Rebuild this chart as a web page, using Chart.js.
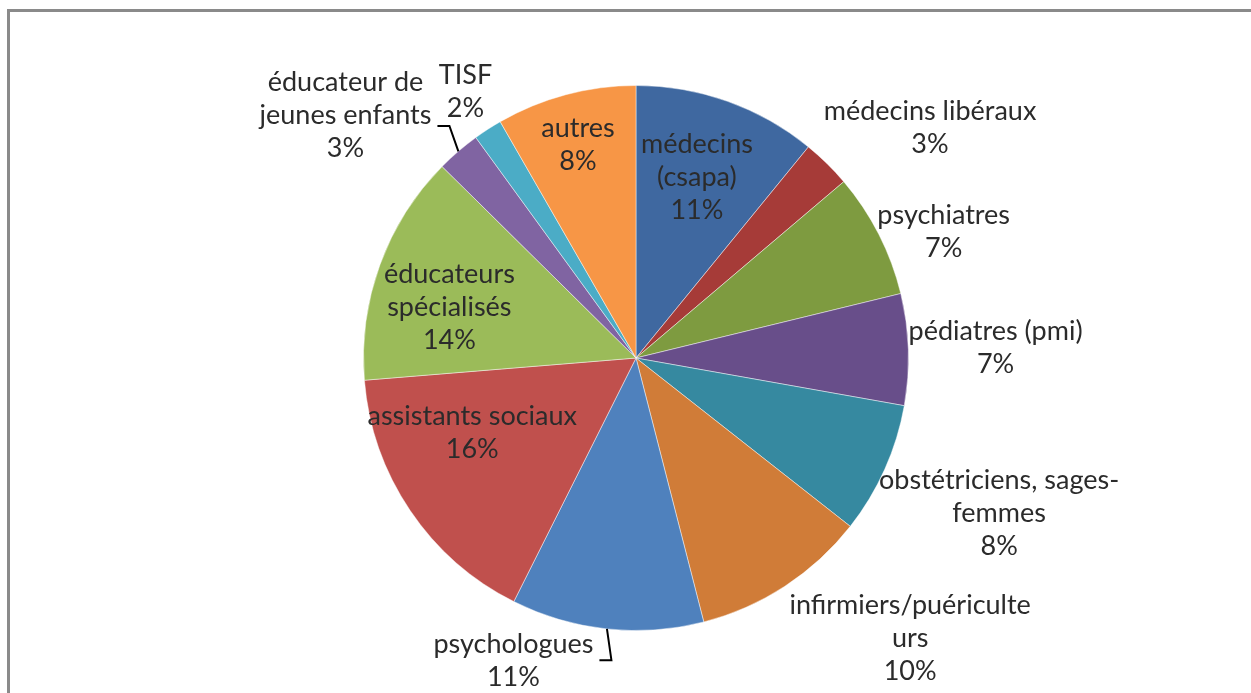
<!DOCTYPE html>
<html>
<head>
<meta charset="utf-8">
<script src="https://cdn.jsdelivr.net/npm/chart.js@4.4.1/dist/chart.umd.min.js"></script>
<style>
  html, body { margin: 0; padding: 0; background: #fff; }
  #wrap { position: relative; width: 1251px; height: 693px; overflow: hidden; }
  #frame { position: absolute; left: 7px; top: 9px; width: 1400px; height: 800px;
           border-top: 3px solid #8a8a8a; border-left: 3px solid #8a8a8a; }
  canvas { position: absolute; left: 0; top: 0; }
</style>
</head>
<body>
<div id="wrap">
  <div id="frame"></div>
  <canvas id="myChart" width="1251" height="693"></canvas>
</div>
<script>
const ctx = document.getElementById('myChart');

// slices, clockwise from 12 o'clock
const categories = [
  ['médecins', '(csapa)'],
  ['médecins libéraux'],
  ['psychiatres'],
  ['pédiatres (pmi)'],
  ['obstétriciens, sages-', 'femmes'],
  ['infirmiers/puériculte', 'urs'],
  ['psychologues'],
  ['assistants sociaux'],
  ['éducateurs', 'spécialisés'],
  ['éducateur de', 'jeunes enfants'],
  ['TISF'],
  ['autres']
];
const shares = [10.9, 2.9, 7.4, 6.6, 7.8, 10.4, 11.4, 16.3, 13.7, 2.6, 1.7, 8.3];
const colors = ['#3f68a0', '#a63b38', '#7e9b40', '#684e8a', '#3689a0', '#d07c38',
                '#4f81bd', '#c0504d', '#9bbb59', '#8064a2', '#4bacc6', '#f79646'];

// label placement: [angle offset from slice middle (deg), distance as fraction of radius]
const labelPlace = [
  [-1.0, 0.70], [7.5, 1.37], [4.75, 1.22], [0.2, 1.32], [-0.9, 1.45], [-11.2, 1.44],
  [15.9, 1.20], [9.6, 0.66], [-4.7, 0.71], [-9.4, 1.39], [0.3, 1.16], [-0.3, 0.81]
];
// slices with a leader line: index -> vertical offset of its start from the label centre
const leaders = new Map([[6, -1], [9, 11]]);

const total = shares.reduce((a, b) => a + b, 0);
const lineH = 33;

const labelPlugin = {
  id: 'pieLabels',
  afterDatasetsDraw(chart) {
    const c = chart.ctx;
    const arcs = chart.getDatasetMeta(0).data;
    c.save();
    c.font = '27px Lato';
    c.fillStyle = '#2b2b2b';
    c.strokeStyle = '#000';
    c.lineWidth = 2;
    c.textAlign = 'center';
    c.textBaseline = 'middle';
    arcs.forEach((arc, i) => {
      const p = arc.getProps(['x', 'y', 'startAngle', 'endAngle', 'outerRadius'], true);
      const mid = (p.startAngle + p.endAngle) / 2;
      const a = mid + labelPlace[i][0] * Math.PI / 180;
      const r = p.outerRadius * labelPlace[i][1];
      const cx = p.x + Math.cos(a) * r;
      const cy = p.y + Math.sin(a) * r;
      const lines = categories[i].concat([Math.round(shares[i] / total * 100) + '%']);
      lines.forEach((t, k) => {
        c.fillText(t, cx, cy + (k - (lines.length - 1) / 2) * lineH);
      });
      if (leaders.has(i)) {
        const w = Math.max(...lines.map(t => c.measureText(t).width));
        const sx = cx + w / 2 + 6;
        const sy = cy + leaders.get(i);
        const ex = p.x + Math.cos(mid) * p.outerRadius;
        const ey = p.y + Math.sin(mid) * p.outerRadius;
        c.beginPath();
        c.moveTo(sx, sy);
        c.lineTo(sx + 12, sy);
        c.lineTo(ex, ey);
        c.stroke();
      }
    });
    c.restore();
  }
};

new Chart(ctx, {
  type: 'pie',
  data: {
    labels: categories,
    datasets: [{
      data: shares,
      backgroundColor: colors,
      borderColor: 'rgba(255,255,255,0.45)',
      borderWidth: 1
    }]
  },
  options: {
    responsive: false,
    animation: false,
    layout: { padding: { top: 85, bottom: 62, left: 363, right: 342 } },
    plugins: {
      legend: { display: false },
      tooltip: { enabled: false }
    }
  },
  plugins: [labelPlugin]
});
</script>
</body>
</html>
